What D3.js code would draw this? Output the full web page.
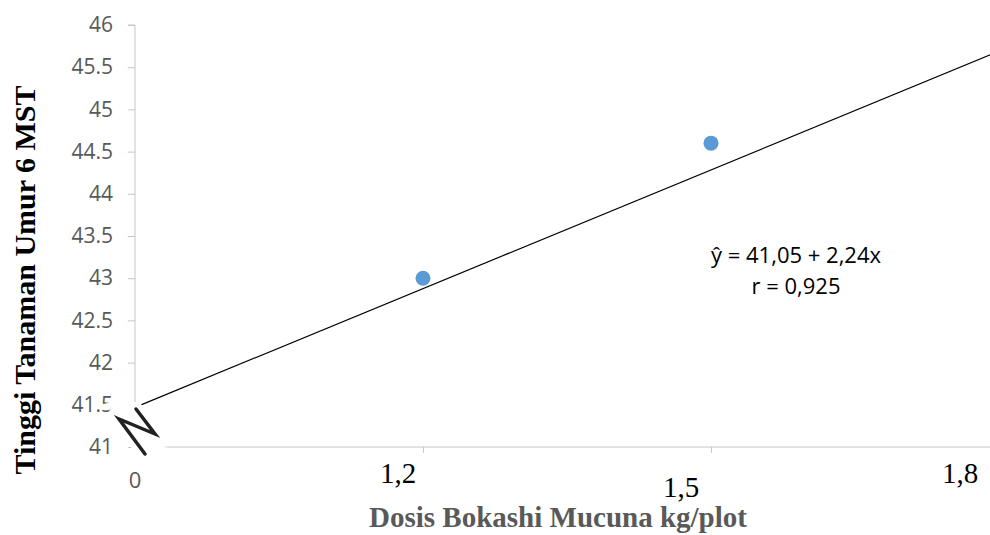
<!DOCTYPE html>
<html>
<head>
<meta charset="utf-8">
<script src="https://cdn.jsdelivr.net/npm/d3@7"></script>
<style>
  body { margin: 0; background: #fff; }
  svg { display: block; }
</style>
</head>
<body>
<svg width="990" height="535"></svg>
<script>
// values
const doses = [1.2, 1.5];
const heights = [43.0, 44.6];
const yTicks = [41, 41.5, 42, 42.5, 43, 43.5, 44, 44.5, 45, 45.5, 46];
const xTicks = [1.2, 1.5, 1.8];
const xTickLabels = ['1,2', '1,5', '1,8'];
const trendX = [0.9, 1.8];
const trendY = [41.47, 45.69];
const equation = ['ŷ = 41,05 + 2,24x', 'r = 0,925'];

const svg = d3.select('svg');

const x = d3.scaleLinear().domain([0.9, 1.8]).range([135, 999]);
const y = d3.scaleLinear().domain([41, 46]).range([447, 25]);

const axisColor = '#c6c6c6';
const grayText = '#595959';

// y axis
const yAxis = svg.append('g')
  .attr('transform', `translate(${x(0.9)},0)`)
  .call(d3.axisLeft(y).tickValues(yTicks).tickSize(7).tickPadding(15)
    .tickFormat(d => String(d)));
yAxis.select('.domain').attr('stroke', axisColor).attr('d', `M-7,${y(46)}H0V${y(41)}`);
yAxis.selectAll('.tick line').attr('stroke', axisColor);
yAxis.selectAll('.tick text')
  .attr('fill', grayText)
  .style('font-family', '"Open Sans", sans-serif')
  .style('font-size', '21px');

// x axis
const xAxis = svg.append('g')
  .attr('transform', `translate(0,${y(41)})`)
  .call(d3.axisBottom(x).tickValues(xTicks).tickSize(6).tickFormat(''));
xAxis.select('.domain').attr('stroke', axisColor).attr('d', `M${x(0.9)},0H${x(1.8)}`);
xAxis.selectAll('.tick line').attr('stroke', axisColor);

// x tick labels (placed like the text boxes in the original)
const labelDx = [-25, -30, -39];
const labelY = [483, 497, 483];
svg.append('g').selectAll('text')
  .data(xTicks)
  .join('text')
  .attr('x', (d, i) => x(d) + labelDx[i])
  .attr('y', (d, i) => labelY[i])
  .attr('text-anchor', 'middle')
  .style('font-family', '"Liberation Serif", "Times New Roman", serif')
  .style('font-size', '29px')
  .attr('fill', '#000')
  .text((d, i) => xTickLabels[i]);

// "0" at the broken origin
svg.append('text')
  .attr('x', x(0.9))
  .attr('y', 488)
  .attr('text-anchor', 'middle')
  .attr('fill', grayText)
  .style('font-family', '"Open Sans", sans-serif')
  .style('font-size', '22px')
  .text('0');

// trend line
const line = d3.line().x(d => x(d[0])).y(d => y(d[1]));
svg.append('path')
  .datum(d3.zip(trendX, trendY))
  .attr('d', line)
  .attr('fill', 'none')
  .attr('stroke', '#000')
  .attr('stroke-width', 1.2);

// points
svg.append('g').selectAll('circle')
  .data(d3.zip(doses, heights))
  .join('circle')
  .attr('cx', d => x(d[0]))
  .attr('cy', d => y(d[1]))
  .attr('r', 7.5)
  .attr('fill', '#5b9bd5');

// axis break mark: white patch then the zigzag
svg.append('polygon')
  .attr('points', '105,403 119,397 136,408 168,450 153,463 142,462')
  .attr('fill', '#fff')
  .style('filter', 'blur(1px)');
const breakPath = 'M136,409 L155,434 L119,419 L145,454';
svg.append('path')
  .attr('d', breakPath)
  .attr('fill', 'none')
  .attr('stroke', '#fff')
  .attr('stroke-width', 14)
  .attr('stroke-linejoin', 'round')
  .attr('stroke-linecap', 'round');
svg.append('path')
  .attr('d', breakPath)
  .attr('fill', 'none')
  .attr('stroke', '#222')
  .attr('stroke-width', 3.5)
  .attr('stroke-linejoin', 'miter')
  .attr('stroke-linecap', 'round')
  .style('filter', 'blur(0.6px)');

// equation
svg.append('g').selectAll('text')
  .data(equation)
  .join('text')
  .attr('x', 796)
  .attr('y', (d, i) => 263 + i * 31)
  .attr('text-anchor', 'middle')
  .attr('fill', '#000')
  .style('font-family', '"Open Sans", sans-serif')
  .style('font-size', '22px')
  .text(d => d);

// axis titles
svg.append('text')
  .attr('x', 558)
  .attr('y', 527)
  .attr('text-anchor', 'middle')
  .attr('fill', grayText)
  .style('font-family', '"Liberation Serif", "Times New Roman", serif')
  .style('font-weight', 'bold')
  .style('font-size', '29px')
  .text('Dosis Bokashi Mucuna kg/plot');

svg.append('text')
  .attr('transform', 'translate(35,280) rotate(-90)')
  .attr('text-anchor', 'middle')
  .attr('fill', '#000')
  .style('font-family', '"Liberation Serif", "Times New Roman", serif')
  .style('font-weight', 'bold')
  .style('font-size', '30px')
  .text('Tinggi Tanaman Umur 6 MST');
</script>
</body>
</html>
